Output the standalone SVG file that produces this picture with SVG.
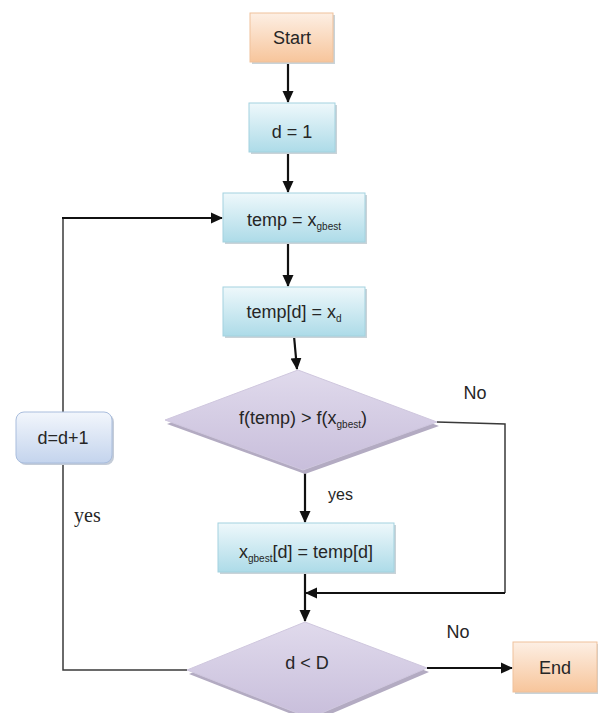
<svg xmlns="http://www.w3.org/2000/svg" width="598" height="713" viewBox="0 0 598 713">
<style>
text{font-family:"Liberation Sans",Arial,sans-serif;fill:#262626;}
.lbl{font-size:18px;text-anchor:middle;}
.sub{font-size:10px;}
.edge{fill:none;stroke:#111;stroke-width:2.2;}
.thin{fill:none;stroke:#3a3a3a;stroke-width:1.5;}
.blue{fill:url(#gBlue);stroke:#a3d2df;stroke-width:1;}
.orange{fill:url(#gOrange);stroke:#efc19b;stroke-width:1;}
.purple{fill:url(#gPurple);stroke:#cfc7de;stroke-width:1;}
.shadow{fill:#c9d3d8;}
.dshadow{fill:#b3abc2;}
</style>
<defs>
<linearGradient id="gBlue" x1="0" y1="0" x2="0" y2="1"><stop offset="0" stop-color="#eef8fb"/><stop offset="1" stop-color="#addbe8"/></linearGradient>
<linearGradient id="gOrange" x1="0" y1="0" x2="0" y2="1"><stop offset="0" stop-color="#fdefe4"/><stop offset="1" stop-color="#f7c59b"/></linearGradient>
<linearGradient id="gPurple" x1="0" y1="0" x2="0" y2="1"><stop offset="0" stop-color="#e0daec"/><stop offset="1" stop-color="#c8bedb"/></linearGradient>
<linearGradient id="gLav" x1="0" y1="0" x2="0" y2="1"><stop offset="0" stop-color="#f2f6fc"/><stop offset="1" stop-color="#c4d4ed"/></linearGradient>
<marker id="arr" markerWidth="12" markerHeight="12" refX="11" refY="6" orient="auto" markerUnits="userSpaceOnUse"><path d="M0,0.5 L12,6 L0,11.5 z" fill="#111"/></marker>
</defs>
<g id="connectors">
<line class="edge" x1="288" y1="62" x2="288" y2="102" marker-end="url(#arr)"/>
<line class="edge" x1="288" y1="152" x2="288" y2="192" marker-end="url(#arr)"/>
<line class="edge" x1="288" y1="242" x2="288" y2="286" marker-end="url(#arr)"/>
<path class="edge" d="M294,336 L297,369" marker-end="url(#arr)"/>
<line class="edge" x1="305" y1="470" x2="305" y2="522" marker-end="url(#arr)"/>
<line class="edge" x1="305" y1="572" x2="305" y2="621" marker-end="url(#arr)"/>
<path class="thin" d="M437,422 L505,424 L505,593"/>
<path class="edge" d="M505,593 L306,593" marker-end="url(#arr)"/>
<line class="edge" x1="427" y1="668" x2="512" y2="668" marker-end="url(#arr)"/>
<path class="thin" d="M187,670 L63,670 L63,463"/>
<path class="thin" d="M63,412 L63,218"/>
<path class="edge" d="M62,218 L222,218" marker-end="url(#arr)"/>
<text x="475" y="399" class="lbl">No</text>
<text x="458" y="638" class="lbl">No</text>
<text x="328" y="500" style="font-size:16px">yes</text>
<text x="74" y="522" style="font-family:'Liberation Serif','Times New Roman',serif;font-size:20px">yes</text>
</g>
<g id="start">
<rect x="252" y="15" width="83" height="49" class="shadow"/>
<rect x="250" y="13" width="83" height="49" class="orange"/>
<text x="292" y="44" class="lbl">Start</text>
</g>
<g id="d1">
<rect x="251" y="105" width="86" height="49" class="shadow"/>
<rect x="249" y="103" width="86" height="49" class="blue"/>
<text x="292" y="138" class="lbl">d = 1</text>
</g>
<g id="temp">
<rect x="225" y="195" width="142" height="49" class="shadow"/>
<rect x="223" y="193" width="142" height="49" class="blue"/>
<text x="294" y="226" class="lbl">temp = x<tspan class="sub" dy="4">gbest</tspan></text>
</g>
<g id="tempd">
<rect x="225" y="289" width="142" height="49" class="shadow"/>
<rect x="223" y="287" width="142" height="49" class="blue"/>
<text x="294" y="318" class="lbl">temp[d] =  x<tspan class="sub" dy="4">d</tspan></text>
</g>
<g id="cond1">
<polygon points="167,424 300,374 439,426 305,474" class="dshadow"/>
<polygon points="165,420 298,370 437,422 303,470" class="purple"/>
<text x="303" y="424" class="lbl">f(temp) &gt; f(x<tspan class="sub" dy="4">gbest</tspan><tspan dy="-4">)</tspan></text>
</g>
<g id="update">
<rect x="220" y="525" width="176" height="49" class="shadow"/>
<rect x="218" y="523" width="176" height="49" class="blue"/>
<text x="306" y="558" class="lbl">x<tspan class="sub" dy="4">gbest</tspan><tspan dy="-4">[d] =  temp[d]</tspan></text>
</g>
<g id="inc">
<rect x="18" y="414" width="96" height="51" rx="8" fill="#c4ccd8"/>
<rect x="16" y="412" width="96" height="51" rx="8" fill="url(#gLav)" stroke="#a9bddd"/>
<text x="63" y="444" class="lbl">d=d+1</text>
</g>
<g id="cond2">
<polygon points="189,674 307,626 429,672 312,722" class="dshadow"/>
<polygon points="187,670 305,622 427,668 310,718" class="purple"/>
<text x="307" y="669" class="lbl">d &lt; D</text>
</g>
<g id="end">
<rect x="515" y="644" width="84" height="50" class="shadow"/>
<rect x="513" y="642" width="84" height="50" class="orange"/>
<text x="555" y="674" class="lbl">End</text>
</g>
</svg>
